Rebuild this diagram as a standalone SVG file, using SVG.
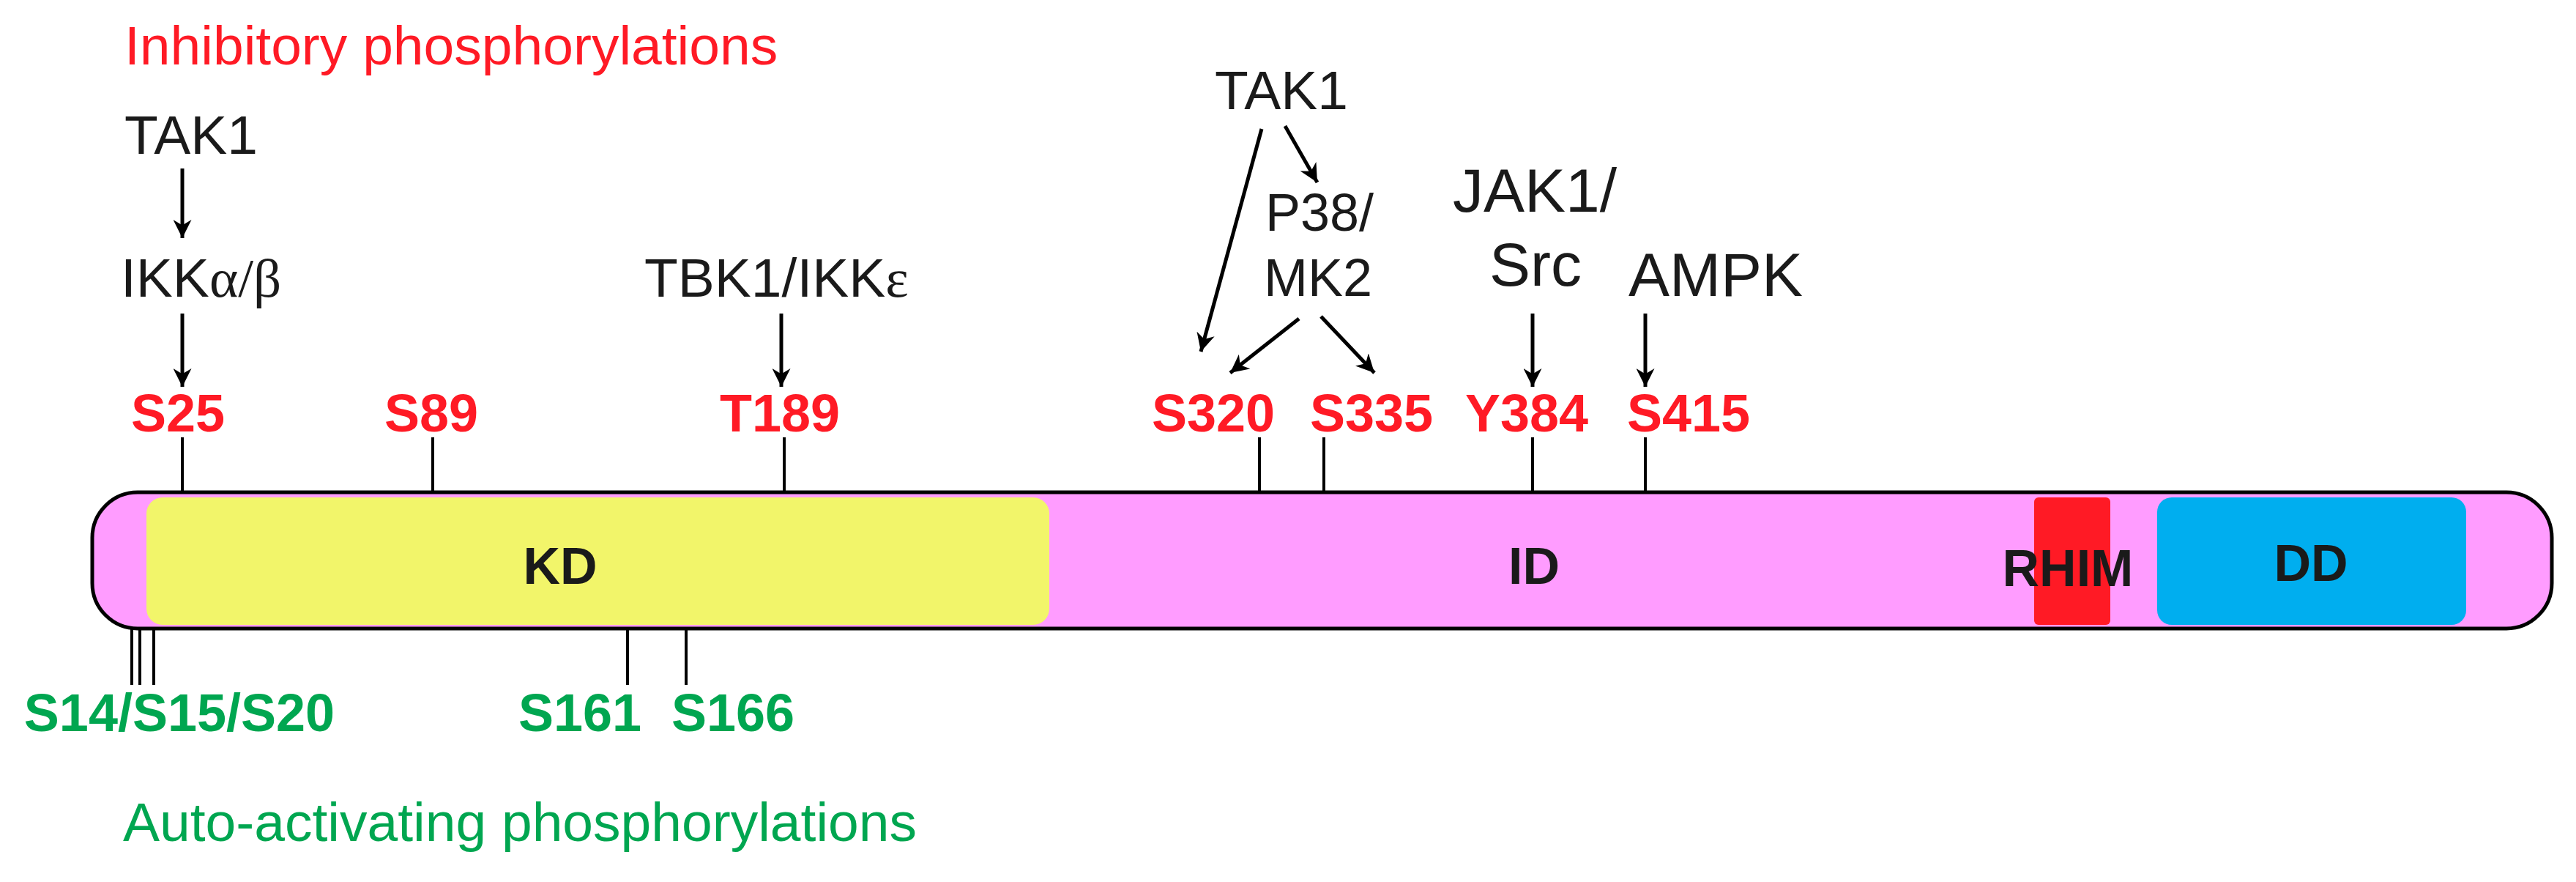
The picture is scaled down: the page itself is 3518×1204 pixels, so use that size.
<svg xmlns="http://www.w3.org/2000/svg" width="3518" height="1204" viewBox="0 0 3518 1204">
<style>
.t{font-family:"Liberation Sans",Arial,sans-serif;fill:#1a1a1a}
.r{font-family:"Liberation Sans",Arial,sans-serif;font-weight:bold;fill:#FF1A25;font-size:72px;text-anchor:middle}
.g{font-family:"Liberation Sans",Arial,sans-serif;font-weight:bold;fill:#00A650;font-size:72px;text-anchor:middle}
.b{font-family:"Liberation Sans",Arial,sans-serif;font-weight:bold;fill:#1a1a1a;font-size:70px;text-anchor:middle}
.gr{font-family:"Liberation Serif","Times New Roman",serif}
.tick{stroke:#000;stroke-width:4;fill:none}
.arr{stroke:#000;stroke-width:5;fill:none;marker-end:url(#ah)}
</style>
<defs>
<marker id="ah" viewBox="0 0 10 10" refX="10" refY="5" markerWidth="5" markerHeight="5" orient="auto" markerUnits="strokeWidth">
<path d="M0,0 L10,5 L0,10 L3,5 Z" fill="#000"/>
</marker>
</defs>
<g id="titles">
<text class="t" x="170" y="88" font-size="75" style="fill:#FF1A25">Inhibitory phosphorylations</text>
<text class="t" x="168" y="1148" font-size="75" style="fill:#00A650">Auto-activating phosphorylations</text>
</g>
<g id="protein">
<rect x="126" y="672" width="3359" height="186" rx="62" fill="#FF9CFF" stroke="#000" stroke-width="5"/>
<rect id="KD" x="200" y="679" width="1233" height="174" rx="22" fill="#F2F56A"/>
<rect id="RHIM" x="2778" y="679" width="104" height="174" rx="6" fill="#FF1A25"/>
<rect id="DD" x="2946" y="679" width="422" height="174" rx="20" fill="#00AEEF"/>
<text class="b" x="765" y="797">KD</text>
<text class="b" x="2095" y="797">ID</text>
<text class="b" x="2824" y="800">RHIM</text>
<text class="b" x="3156" y="793">DD</text>
</g>
<g id="kinases">
<text class="t" x="170" y="210" font-size="75">TAK1</text>
<text class="t" x="165" y="405" font-size="75">IKK<tspan class="gr">α/β</tspan></text>
<text class="t" x="880" y="405" font-size="75">TBK1/IKK<tspan class="gr">ε</tspan></text>
<text class="t" x="1659" y="149" font-size="75">TAK1</text>
<text class="t" x="1728" y="315" font-size="72">P38/</text>
<text class="t" x="1726" y="404" font-size="72">MK2</text>
<text class="t" x="1984" y="289" font-size="84">JAK1/</text>
<text class="t" x="2097" y="390" font-size="84" text-anchor="middle">Src</text>
<text class="t" x="2224" y="404" font-size="84">AMPK</text>
</g>
<g id="sites">
<text class="r" x="243" y="589">S25</text>
<text class="r" x="589" y="589">S89</text>
<text class="r" x="1065" y="589">T189</text>
<text class="r" x="1657" y="589">S320</text>
<text class="r" x="1873" y="589">S335</text>
<text class="r" x="2085" y="589">Y384</text>
<text class="r" x="2306" y="589">S415</text>
<text class="g" x="245" y="998">S14/S15/S20</text>
<text class="g" x="792" y="998">S161</text>
<text class="g" x="1001" y="998">S166</text>
</g>
<g id="connectors">
<path class="tick" d="M249,597V672M591,597V672M1071,597V672M1720,597V672M1808,597V672M2093,597V672M2247,597V672"/>
<path class="tick" d="M180,858V935M191,858V935M210,858V935M857,858V935M937,858V935"/>
<path class="arr" d="M249,230V325"/>
<path class="arr" d="M249,428V528"/>
<path class="arr" d="M1067,428V528"/>
<path class="arr" d="M1723,176L1640,480"/>
<path class="arr" d="M1755,172L1799,249"/>
<path class="arr" d="M1774,435L1680,509"/>
<path class="arr" d="M1804,432L1877,509"/>
<path class="arr" d="M2093,428V528"/>
<path class="arr" d="M2247,428V528"/>
</g>
</svg>
